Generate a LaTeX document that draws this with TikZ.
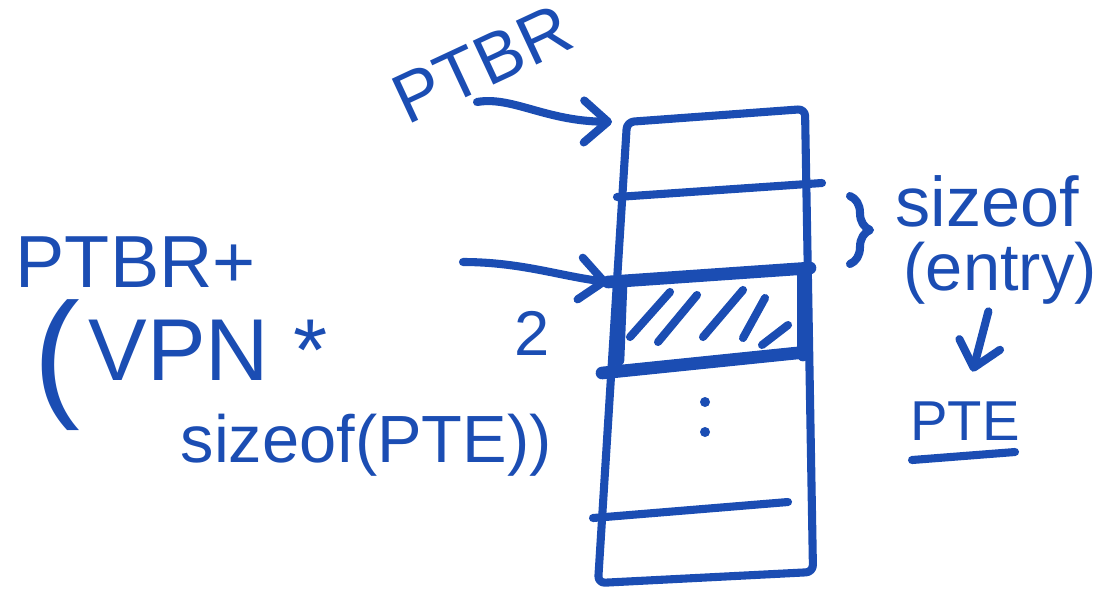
\documentclass[tikz,border=0pt]{standalone}
\usepackage{fontspec}
\setmainfont{Liberation Sans}
\usetikzlibrary{arrows.meta,decorations.pathreplacing}
\definecolor{penBlue}{HTML}{1B4DB3}
\newcommand{\penSize}[1]{\fontsize{#1}{#1}\selectfont}

\begin{document}
\begin{tikzpicture}[%
  x=0.1mm,y=-0.1mm,
  penStyle/.style={draw=penBlue,line width=2.3pt,line cap=round,line join=round},
  heavyStyle/.style={penStyle,line width=3.6pt},
  arrowStyle/.style={penStyle,-{Straight Barb[length=2.4mm,width=4.2mm,round]}},
  labelStyle/.style={text=penBlue,inner sep=0pt,font=\penSize{#1}},
  labelStyle/.default=20
]
\useasboundingbox (0,0) rectangle (1111,591);
%
% Corners of the table.
\coordinate (tableTopLeft) at (627,122);
\coordinate (tableTopRight) at (805,109);
\coordinate (tableBottomRight) at (813,572);
\coordinate (tableBottomLeft) at (598,583);
% Left end of the selected entry.
\coordinate (rowTwoLeft) at (608,282);
%
% The table.
\draw[penStyle,rounded corners=2pt] (tableTopLeft) -- (tableTopRight)
  -- (tableBottomRight) -- (tableBottomLeft) -- cycle;
% Row lines.
\draw[penStyle] (617,197) -- (822,183);
\draw[heavyStyle] (rowTwoLeft) -- (810,268);
\draw[heavyStyle] (602,373) -- (797,353);
\draw[penStyle] (593,518) -- (788,502);
% The selected entry, hatched.
\draw[heavyStyle] (621,285) -- (618,360);
\draw[heavyStyle] (803,272) -- (803,355);
\foreach \xa/\ya/\xb/\yb in {630/337/670/292, 658/342/697/295,
    703/337/743/290, 743/338/765/298, 762/345/788/325}
  \draw[penStyle] (\xa,\ya) -- (\xb,\yb);
% More entries below.
\fill[penBlue] (705,402) circle[radius=5];
\fill[penBlue] (705,432) circle[radius=5];
%
% Left labels.
\node[labelStyle=20,rotate=25] (ptbr) at (482,64) {PTBR};
\node[labelStyle=21,anchor=base west] (ptbrPlus) at (15,287) {PTBR+};
\node[labelStyle=40] (openParen) at (57,365) {(};
\node[labelStyle=25,anchor=base west] (vpn) at (88,380) {VPN *};
\node[labelStyle=19,anchor=base west] (sizeofPte) at (180,462) {sizeof(PTE))};
\node[labelStyle=18] (two) at (532,333) {2};
%
% Right labels.
\draw[penStyle,decorate,decoration={brace,amplitude=2mm}] (850,196) -- (850,264);
\node[labelStyle=20,anchor=base west] (sizeofLabel) at (895,226) {sizeof};
\node[labelStyle=19,anchor=base west] (entryLabel) at (903,290) {(entry)};
\node[labelStyle=16,anchor=base] (pteLabel) at (965,440) {PTE};
\draw[penStyle] (912,460) -- (1015,452);
%
% Arrows.
\coordinate (ptbrTail) at (477,102);
\coordinate (plusTail) at (463,262);
\draw[arrowStyle,shorten >=1.5mm] (ptbrTail) .. controls (512,96) and (545,121) .. (tableTopLeft);
\draw[arrowStyle] (plusTail) .. controls (520,262) and (560,276) .. (rowTwoLeft);
\draw[arrowStyle,shorten <=2pt,shorten >=3mm] ([xshift=-1mm]entryLabel.south) -- (pteLabel.north);
\end{tikzpicture}
\end{document}
